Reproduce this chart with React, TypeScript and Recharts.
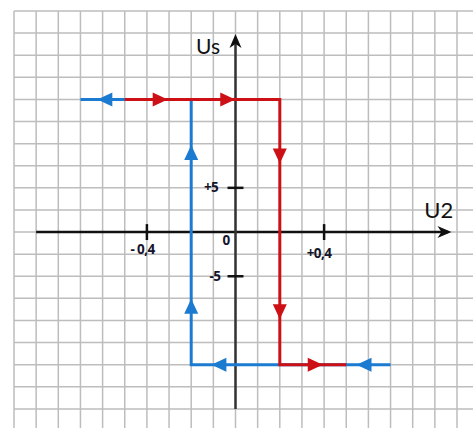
import React from 'react';
import {
  ComposedChart,
  Line,
  Scatter,
  XAxis,
  YAxis,
  CartesianGrid,
  ReferenceLine,
} from 'recharts';

const BLUE = '#1b7bd0';
const RED = '#cc1016';
const INK = '#111111';

// hysteresis loop: U2 (V) -> Us (V)
const bluePath = [
  { x: 0.7, y: -15 },
  { x: -0.2, y: -15 },
  { x: -0.2, y: 15 },
  { x: -0.7, y: 15 },
];
const redPath = [
  { x: -0.5, y: 15 },
  { x: 0.2, y: 15 },
  { x: 0.2, y: -15 },
  { x: 0.5, y: -15 },
];

// direction arrows along each branch
const blueArrows = [
  { x: -0.59, y: 15, dir: 'left' },
  { x: -0.2, y: 9, dir: 'up' },
  { x: -0.2, y: -8.4, dir: 'up' },
  { x: -0.075, y: -15, dir: 'left' },
  { x: 0.58, y: -15, dir: 'left' },
];
const redArrows = [
  { x: -0.34, y: 15, dir: 'right' },
  { x: -0.035, y: 15, dir: 'right' },
  { x: 0.2, y: 8.6, dir: 'down' },
  { x: 0.2, y: -9, dir: 'down' },
  { x: 0.36, y: -15, dir: 'right' },
];

// graph paper: 0.1 V by 2.5 V squares
const gridX = [
  -1, -0.9, -0.8, -0.7, -0.6, -0.5, -0.4, -0.3, -0.2, -0.1, 0, 0.1, 0.2, 0.3,
  0.4, 0.5, 0.6, 0.7, 0.8, 0.9, 1, 1.1,
];
const gridY = [
  -22.5, -20, -17.5, -15, -12.5, -10, -7.5, -5, -2.5, 0, 2.5, 5, 7.5, 10, 12.5,
  15, 17.5, 20, 22.5, 25,
];

const xTickValues = [-0.4, 0.4];
const yTickValues = [-5, 5];

const axisArrows = [
  { x: 0.975, y: 0, dir: 'right' },
  { x: 0, y: 22.4, dir: 'up' },
];

const labels = [
  { x: -0.124, y: 21.1, text: 'Us', size: 21, bold: false },
  { x: 0.918, y: 2.5, text: 'U2', size: 22, bold: false },
  { x: -0.42, y: -1.92, text: '- 0,4', size: 13.5, bold: true },
  { x: 0.377, y: -2.38, text: '+0,4', size: 13.5, bold: true },
  { x: -0.043, y: -0.9, text: '0', size: 13.5, bold: true },
  { x: -0.11, y: 5.1, text: '+5', size: 13.5, bold: true },
  { x: -0.093, y: -4.98, text: '-5', size: 13.5, bold: true },
];

const FONT = 'Lato, "Open Sans", sans-serif';
const TICK_FONT = '"Open Sans", Lato, sans-serif';

function Triangle(props: any) {
  const { cx, cy, payload, fill } = props;
  const len = 15;
  const half = 7;
  let pts = '';
  if (payload.dir === 'right') {
    pts = `${cx + len / 2},${cy} ${cx - len / 2},${cy - half} ${cx - len / 2},${cy + half}`;
  } else if (payload.dir === 'left') {
    pts = `${cx - len / 2},${cy} ${cx + len / 2},${cy - half} ${cx + len / 2},${cy + half}`;
  } else if (payload.dir === 'up') {
    pts = `${cx},${cy - len / 2} ${cx - half},${cy + len / 2} ${cx + half},${cy + len / 2}`;
  } else {
    pts = `${cx},${cy + len / 2} ${cx - half},${cy - len / 2} ${cx + half},${cy - len / 2}`;
  }
  return <polygon points={pts} fill={fill} />;
}

function AxisHead(props: any) {
  const { cx, cy, payload } = props;
  // notched arrowhead, tip at the point
  const d =
    payload.dir === 'right'
      ? `M${cx},${cy} L${cx - 14},${cy - 6} L${cx - 10},${cy} L${cx - 14},${cy + 6} Z`
      : `M${cx},${cy} L${cx - 6},${cy + 14} L${cx},${cy + 10} L${cx + 6},${cy + 14} Z`;
  return <path d={d} fill={INK} />;
}

function Label(props: any) {
  const { cx, cy, payload } = props;
  return (
    <text
      x={cx}
      y={cy}
      textAnchor="middle"
      dominantBaseline="central"
      fontFamily={payload.bold ? TICK_FONT : FONT}
      fontSize={payload.size}
      fontWeight={payload.bold ? 700 : 400}
      fill={payload.bold ? '#14142a' : INK}
      letterSpacing={payload.bold ? -0.6 : 0}
    >
      {payload.text}
    </text>
  );
}

export default function App() {
  return (
    <div
      style={{
        position: 'absolute',
        left: 0,
        top: 0,
        width: 473,
        height: 428,
        overflow: 'hidden',
        background: '#fff',
      }}
    >
      <ComposedChart
        width={480}
        height={432}
        margin={{ top: 11, right: 0.85, left: 14, bottom: 1 }}
      >
        <CartesianGrid stroke="#bdbdbd" strokeWidth={1.5} />
        <XAxis
          type="number"
          dataKey="x"
          domain={[-1, 1.1]}
          ticks={gridX}
          interval={0}
          allowDataOverflow
          hide
        />
        <YAxis
          type="number"
          dataKey="y"
          domain={[-22.5, 25]}
          ticks={gridY}
          interval={0}
          allowDataOverflow
          hide
        />

        <ReferenceLine
          segment={[{ x: -0.9, y: 0 }, { x: 0.96, y: 0 }]}
          stroke={INK}
          strokeWidth={2.5}
          ifOverflow="visible"
        />
        <ReferenceLine
          segment={[{ x: 0, y: -20 }, { x: 0, y: 22 }]}
          stroke="#333"
          strokeWidth={2.5}
          ifOverflow="visible"
        />
        {xTickValues.map((v) => (
          <ReferenceLine
            key={`xt${v}`}
            segment={[{ x: v, y: -0.9 }, { x: v, y: 0.9 }]}
            stroke={INK}
            strokeWidth={2.5}
            ifOverflow="visible"
          />
        ))}
        {yTickValues.map((v) => (
          <ReferenceLine
            key={`yt${v}`}
            segment={[{ x: -0.036, y: v }, { x: 0.036, y: v }]}
            stroke={INK}
            strokeWidth={2.5}
            ifOverflow="visible"
          />
        ))}

        <Line
          data={bluePath}
          dataKey="y"
          type="linear"
          stroke={BLUE}
          strokeWidth={3}
          dot={false}
          isAnimationActive={false}
        />
        <Line
          data={redPath}
          dataKey="y"
          type="linear"
          stroke={RED}
          strokeWidth={3}
          dot={false}
          isAnimationActive={false}
        />
        <Scatter
          data={blueArrows}
          dataKey="y"
          fill={BLUE}
          shape={(p: any) => <Triangle {...p} fill={BLUE} />}
          isAnimationActive={false}
        />
        <Scatter
          data={redArrows}
          dataKey="y"
          fill={RED}
          shape={(p: any) => <Triangle {...p} fill={RED} />}
          isAnimationActive={false}
        />
        <Scatter
          data={axisArrows}
          dataKey="y"
          shape={(p: any) => <AxisHead {...p} />}
          isAnimationActive={false}
        />
        <Scatter
          data={labels}
          dataKey="y"
          shape={(p: any) => <Label {...p} />}
          isAnimationActive={false}
        />
      </ComposedChart>
    </div>
  );
}
